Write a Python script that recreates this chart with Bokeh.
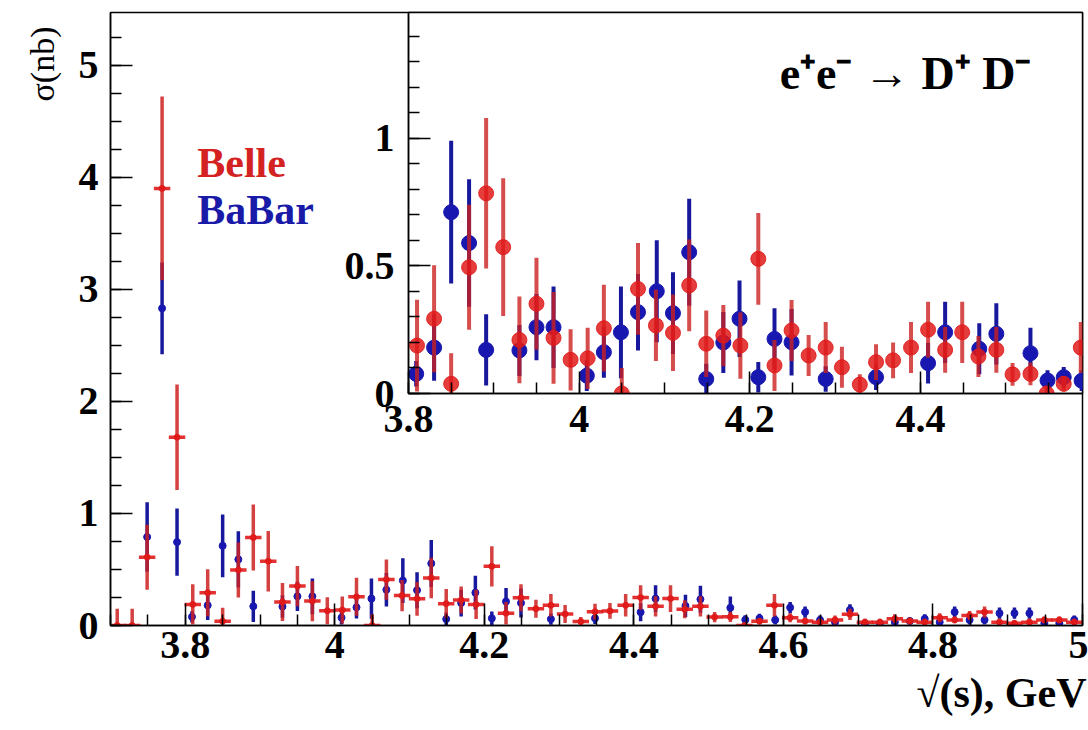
from bokeh.plotting import figure
from bokeh.models import (Range1d, Label, Title, SingleIntervalTicker,
                          CustomJSTickFormatter, ColumnDataSource)
from bokeh.layouts import column
from bokeh.embed import file_html
from bokeh.resources import INLINE

# ---------------- data ----------------
belle_x = [3.709, 3.729, 3.749, 3.769, 3.789, 3.810, 3.830, 3.850, 3.871, 3.891,
           3.911, 3.930, 3.950, 3.970, 3.990, 4.010, 4.029, 4.050, 4.069, 4.090,
           4.110, 4.129, 4.149, 4.169, 4.189, 4.210, 4.229, 4.249, 4.269, 4.289,
           4.308, 4.329, 4.348, 4.368, 4.389, 4.409, 4.429, 4.449, 4.468, 4.489,
           4.508, 4.529, 4.548, 4.568, 4.588, 4.609, 4.629, 4.649, 4.669, 4.689,
           4.709, 4.729, 4.749, 4.769, 4.789, 4.809, 4.829, 4.849, 4.869, 4.889,
           4.909, 4.929, 4.949, 4.969, 4.989]
belle_y = [0.0, 0.0, 0.61, 3.90, 1.68, 0.188, 0.293, 0.038, 0.495, 0.785,
           0.574, 0.21, 0.352, 0.218, 0.132, 0.138, 0.256, 0.0, 0.41, 0.267,
           0.238, 0.424, 0.195, 0.227, 0.188, 0.528, 0.11, 0.247, 0.149, 0.18,
           0.103, 0.035, 0.123, 0.13, 0.18, 0.25, 0.171, 0.24, 0.145, 0.171,
           0.075, 0.077, 0.0, 0.038, 0.18, 0.07, 0.04, 0.03, 0.05, 0.10,
           0.03, 0.03, 0.06, 0.04, 0.03, 0.07, 0.05, 0.09, 0.12, 0.03,
           0.02, 0.03, 0.05, 0.05, 0.03]
belle_err = [0.15, 0.15, 0.29, 0.82, 0.47, 0.18, 0.21, 0.12, 0.245, 0.295,
             0.27, 0.17, 0.18, 0.18, 0.12, 0.12, 0.17, 0.10, 0.18, 0.14,
             0.15, 0.18, 0.13, 0.12, 0.13, 0.18, 0.10, 0.12, 0.08, 0.10,
             0.08, 0.04, 0.07, 0.07, 0.10, 0.11, 0.09, 0.12, 0.08, 0.09,
             0.045, 0.045, 0.03, 0.03, 0.10, 0.04, 0.03, 0.03, 0.04, 0.05,
             0.03, 0.03, 0.04, 0.03, 0.03, 0.04, 0.03, 0.04, 0.05, 0.03,
             0.03, 0.03, 0.03, 0.03, 0.03]

babar_x = [3.749, 3.769, 3.789, 3.809, 3.830, 3.850, 3.871, 3.891, 3.930, 3.950,
           3.970, 4.009, 4.029, 4.049, 4.069, 4.091, 4.110, 4.129, 4.149, 4.169,
           4.188, 4.210, 4.229, 4.249, 4.289, 4.348, 4.409, 4.429, 4.469, 4.489,
           4.529, 4.549, 4.568, 4.589, 4.609, 4.629, 4.649, 4.669, 4.689, 4.709,
           4.729, 4.749, 4.769, 4.789, 4.809, 4.829, 4.849, 4.869, 4.889, 4.909,
           4.929, 4.949, 4.969, 4.989]
babar_y = [0.79, 2.83, 0.744, 0.077, 0.18, 0.711, 0.59, 0.171, 0.169, 0.26,
           0.26, 0.07, 0.162, 0.24, 0.319, 0.401, 0.315, 0.554, 0.057, 0.20,
           0.293, 0.064, 0.214, 0.201, 0.057, 0.064, 0.119, 0.24, 0.175, 0.234,
           0.158, 0.051, 0.064, 0.05, 0.16, 0.12, 0.05, 0.03, 0.14, 0.02,
           0.02, 0.03, 0.04, 0.06, 0.03, 0.12, 0.05, 0.05, 0.11, 0.11,
           0.11, 0.02, 0.02, 0.05]
babar_err = [0.31, 0.41, 0.30, 0.05, 0.13, 0.28, 0.25, 0.14, 0.10, 0.13,
             0.16, 0.06, 0.10, 0.18, 0.15, 0.20, 0.16, 0.21, 0.06, 0.12,
             0.15, 0.06, 0.12, 0.13, 0.05, 0.05, 0.08, 0.12, 0.10, 0.12,
             0.10, 0.04, 0.04, 0.04, 0.05, 0.05, 0.04, 0.03, 0.05, 0.03,
             0.03, 0.03, 0.03, 0.04, 0.03, 0.05, 0.04, 0.04, 0.05, 0.05,
             0.05, 0.03, 0.03, 0.04]

x_tick_step_main = 0.2
y_tick_step_main = 1
x_tick_step_inset = 0.2
y_tick_step_inset = 0.5

# ---------------- styles ----------------
RED = "#e01a1a"
RED_BAR = "#cc2020"
BLUE = "#1818b0"
BLUE_BAR = "#18189c"
FONT = "Liberation Serif"
HALF_BIN = 0.011


def make_src(xs, ys, es):
    return ColumnDataSource(dict(
        x=xs, y=ys,
        lo=[a - b for a, b in zip(ys, es)],
        hi=[a + b for a, b in zip(ys, es)],
        xl=[a - HALF_BIN for a in xs],
        xr=[a + HALF_BIN for a in xs],
    ))


def style_axes(fig, xstep, xminor, ystep, yminor, xstandoff, ystandoff):
    fmt = CustomJSTickFormatter(code="""
        var s = tick.toFixed(1);
        if (s == "-0.0") s = "0.0";
        return s.endsWith(".0") ? s.slice(0, -2) : s;
    """)
    for ax, step, nminor, so in ((fig.xaxis[0], xstep, xminor, xstandoff),
                                 (fig.yaxis[0], ystep, yminor, ystandoff)):
        ax.ticker = SingleIntervalTicker(interval=step, num_minor_ticks=nminor)
        ax.formatter = fmt
        ax.major_tick_in = 22
        ax.major_tick_out = 0
        ax.minor_tick_in = 11
        ax.minor_tick_out = 0
        ax.major_tick_line_width = 1.5
        ax.minor_tick_line_width = 1.5
        ax.major_tick_line_color = "black"
        ax.minor_tick_line_color = "black"
        ax.axis_line_color = "black"
        ax.axis_line_width = 1.5
        ax.major_label_text_font = FONT
        ax.major_label_text_font_size = "40px"
        ax.major_label_text_font_style = "bold"
        ax.major_label_text_color = "black"
        ax.major_label_standoff = so
    fig.xgrid.visible = False
    fig.ygrid.visible = False
    fig.outline_line_color = "black"
    fig.outline_line_width = 1.5


belle = make_src(belle_x, belle_y, belle_err)
babar = make_src(babar_x, babar_y, babar_err)

# ---------------- main plot ----------------
p = figure(width=1088, height=730, x_range=Range1d(3.7, 5.0), y_range=Range1d(0, 5.47),
           output_backend="svg", toolbar_location=None,
           min_border_left=110, min_border_right=6, min_border_top=12, min_border_bottom=105)
style_axes(p, x_tick_step_main, 4, y_tick_step_main, 4, 6, 12)
p.background_fill_color = "white"
p.border_fill_color = "white"

p.segment(x0="x", y0="lo", x1="x", y1="hi", source=babar, line_color=BLUE_BAR, line_width=3.5)
p.scatter(x="x", y="y", source=babar, size=7, fill_color=BLUE, line_color=BLUE)
p.segment(x0="x", y0="lo", x1="x", y1="hi", source=belle, line_color=RED_BAR, line_width=3.5, line_alpha=0.85)
p.segment(x0="xl", y0="y", x1="xr", y1="y", source=belle, line_color=RED, line_width=3.5, line_alpha=0.9)
p.scatter(x="x", y="y", source=belle, size=6, fill_color=RED, line_color=RED, alpha=0.9)

p.add_layout(Title(text="√(s), GeV", align="right", offset=-4, standoff=14, text_font=FONT,
                   text_font_size="42px", text_font_style="bold", text_color="black"), "below")
p.add_layout(Title(text="σ(nb)", align="right", offset=14, standoff=30, text_font=FONT,
                   text_font_size="34px", text_font_style="normal", text_color="black"), "left")

p.add_layout(Label(x=3.816, y=4.13, text="Belle", text_color="#d42222", text_font=FONT,
                   text_font_size="42px", text_font_style="bold", text_baseline="alphabetic"))
p.add_layout(Label(x=3.816, y=3.71, text="BaBar", text_color="#1a1aa8", text_font=FONT,
                   text_font_size="42px", text_font_style="bold", text_baseline="alphabetic"))

# ---------------- inset ----------------
pi = figure(width=790, height=453, x_range=Range1d(3.8, 4.59), y_range=Range1d(0, 1.494),
            output_backend="svg", toolbar_location=None,
            min_border_left=110, min_border_right=6, min_border_top=12, min_border_bottom=60)
style_axes(pi, x_tick_step_inset, 4, y_tick_step_inset, 5, 12, 14)
pi.background_fill_color = "white"
pi.border_fill_color = None
pi.margin = (-730, 0, 0, 298)

pi.segment(x0="x", y0="lo", x1="x", y1="hi", source=babar, line_color=BLUE_BAR, line_width=4)
pi.scatter(x="x", y="y", source=babar, size=15, fill_color=BLUE, line_color=BLUE)
pi.segment(x0="x", y0="lo", x1="x", y1="hi", source=belle, line_color=RED_BAR, line_width=4, line_alpha=0.8)
pi.scatter(x="x", y="y", source=belle, size=15, fill_color=RED, line_color=RED, alpha=0.85)

pi.add_layout(Label(x=4.235, y=1.255, text="e⁺e⁻ → D⁺ D⁻", text_color="black", text_font=FONT,
                    text_font_size="46px", text_font_style="bold", text_baseline="alphabetic"))

layout = column(p, pi)
open("out.html", "w").write(file_html(layout, INLINE))
